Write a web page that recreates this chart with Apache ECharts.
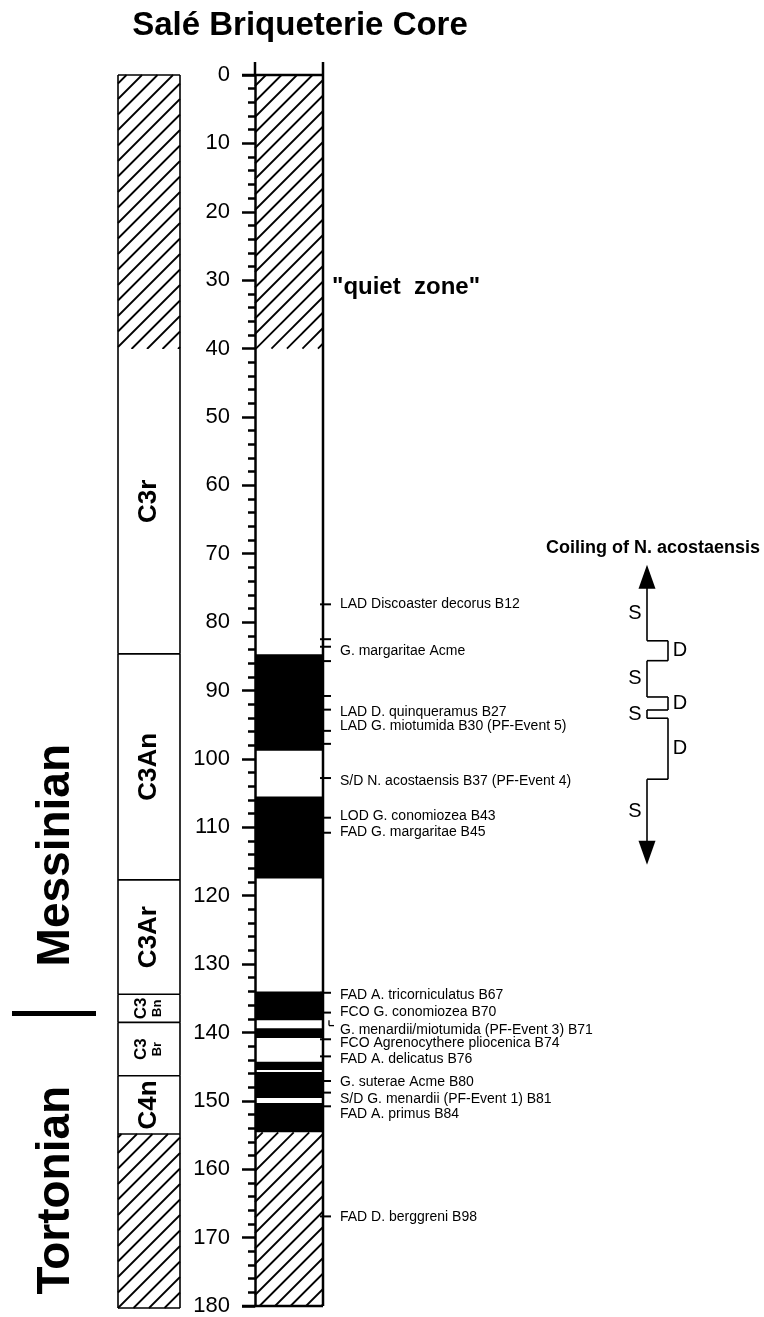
<!DOCTYPE html>
<html><head><meta charset="utf-8">
<script src="https://cdn.jsdelivr.net/npm/echarts@6/dist/echarts.min.js"></script>
<style>html,body{margin:0;padding:0;background:#fff}#c{width:764px;height:1317px}</style>
</head><body><div id="c"></div>
<script>
// ---------------- DATA ----------------
const depthMin = 0, depthMax = 180, depthInterval = 10;

// Magnetic polarity chrons (left column)
const chronLabel   = ['', 'C3r', 'C3An', 'C3Ar', 'C3', 'C3', 'C4n', ''];
const chronSub     = ['', '', '', '', 'Bn', 'Br', '', ''];
const chronTop     = [0, 40, 84.5, 117.5, 134.2, 138.3, 146.1, 154.6];
const chronBottom  = [40, 84.5, 117.5, 134.2, 138.3, 146.1, 154.6, 180];
const chronHatched = [true, false, false, false, false, false, false, true];

// Core column: unsampled (hatched) intervals and normal polarity (black) intervals
const hatchTop     = [0, 154.6];
const hatchBottom  = [40, 180];
const normalTop    = [84.7, 105.5, 134.0, 139.4, 144.3, 145.8, 150.3];
const normalBottom = [98.8, 117.5, 138.2, 140.8, 145.5, 149.6, 154.6];

// Bio-events
const tickDepths = [77.4, 82.5, 83.6, 85.7, 90.8, 92.8, 95.9, 97.8, 102.8, 108.6, 110.8,
                    134.2, 137.1, 141.0, 143.5, 147.1, 148.8, 150.8, 166.9];
const eventNames = [
  'LAD Discoaster decorus B12',
  'G. margaritae Acme',
  'LAD D. quinqueramus B27',
  'LAD G. miotumida B30 (PF-Event 5)',
  'S/D N. acostaensis B37 (PF-Event 4)',
  'LOD G. conomiozea B43',
  'FAD G. margaritae B45',
  'FAD A. tricorniculatus B67',
  'FCO G. conomiozea B70',
  'G. menardii/miotumida (PF-Event 3) B71',
  'FCO Agrenocythere pliocenica B74',
  'FAD A. delicatus B76',
  'G. suterae Acme B80',
  'S/D G. menardii (PF-Event 1) B81',
  'FAD A. primus B84',
  'FAD D. berggreni B98'
];
const eventLabelDepths = [77.4, 84.2, 93.1, 95.2, 103.2, 108.3, 110.7,
                          134.5, 137.1, 139.7, 141.5, 143.9, 147.3, 149.8, 152.0, 167.0];
const leaderTop = 138.2, leaderBottom = 139.0;   // B71 leader

// Stages
const stageNames = ['Messinian', 'Tortonian'];
const stageCenters = [113.9, 162.8];
const stageBoundary = 137.0;

// Coiling of N. acostaensis
const coilStates = ['S', 'D', 'S', 'D', 'S', 'D', 'S'];
const coilTop    = [71.5, 82.6, 85.5, 90.8, 92.7, 93.9, 102.8];
const coilBottom = [82.6, 85.5, 90.8, 92.7, 93.9, 102.8, 115.3];

const quietZoneDepth = 31;

// ---------------- CHART ----------------
const FONT = '"Liberation Sans", Arial, Helvetica, sans-serif';
const chart = echarts.init(document.getElementById('c'), null, {renderer: 'canvas', width: 764, height: 1317});
const TOP = 75, H = 1233;

function ln(x1, y1, x2, y2, w) {
  return {type: 'line', shape: {x1, y1, x2, y2}, style: {stroke: '#000', lineWidth: w}};
}
function hatchLines(x0, y0, x1, y1, step, lw) {
  const els = [];
  const start = Math.ceil((x0 + y0) / step) * step;
  for (let c = start; c < x1 + y1; c += step) {
    const xa = Math.max(x0, c - y1), xb = Math.min(x1, c - y0);
    if (xb - xa < 0.5) continue;
    els.push(ln(xa, c - xa, xb, c - xb, lw));
  }
  return els;
}
function txt(x, y, text, size, weight, align, rot, extra) {
  return Object.assign({type: 'text', x, y, rotation: rot || 0,
    style: {text, fontSize: size, fontWeight: weight || 'normal', fontFamily: FONT, fill: '#000',
            align: align || 'left', verticalAlign: 'middle'}}, extra || {});
}

const hiddenY = gi => ({type: 'value', gridIndex: gi, inverse: true, min: depthMin, max: depthMax,
                        interval: depthInterval, show: false});
const hiddenX = gi => ({type: 'value', gridIndex: gi, min: 0, max: 1, show: false});

const option = {
  animation: false,
  backgroundColor: '#fff',
  grid: [
    {left: 118, top: TOP, width: 62, height: H},   // chron column
    {left: 255, top: TOP, width: 68, height: H},   // core column
    {left: 647, top: TOP, width: 21, height: H}    // coiling diagram
  ],
  xAxis: [hiddenX(0), hiddenX(1), hiddenX(2)],
  yAxis: [
    hiddenY(0),
    {type: 'value', gridIndex: 1, inverse: true, min: depthMin, max: depthMax, interval: depthInterval,
     axisLine: {show: true, lineStyle: {color: '#000', width: 2.5}},
     axisTick: {show: true, length: 13, lineStyle: {color: '#000', width: 2.5}},
     minorTick: {show: true, splitNumber: 5, length: 7, lineStyle: {color: '#000', width: 2.5}},
     axisLabel: {color: '#000', fontSize: 22, fontFamily: FONT, margin: 25},
     splitLine: {show: false}, minorSplitLine: {show: false}},
    hiddenY(2)
  ],
  graphic: [
    {type: 'text', x: 300, y: 26, style: {text: 'Salé Briqueterie Core', fontSize: 33, fontWeight: 'bold',
      fontFamily: FONT, fill: '#000', align: 'center', verticalAlign: 'middle'}}
  ],
  series: [
    // chron column
    {type: 'custom', xAxisIndex: 0, yAxisIndex: 0, z: 2,
     data: chronTop.map((t, i) => [0, t, chronBottom[i]]),
     encode: {x: 0, y: [1, 2]},
     renderItem: (params, api) => {
       const i = params.dataIndex;
       const p0 = api.coord([0, api.value(1)]), p1 = api.coord([1, api.value(2)]);
       const x0 = p0[0], y0 = p0[1], x1 = p1[0], y1 = p1[1];
       const ch = [{type: 'rect', shape: {x: x0, y: y0, width: x1 - x0, height: y1 - y0}, style: {fill: '#fff'}}];
       if (chronHatched[i]) ch.push(...hatchLines(x0, y0, x1, y1, 15.5, 1.8));
       ch.push(ln(x0, y0, x0, y1, 1.6), ln(x1, y0, x1, y1, 1.6));
       if (i === 0 || !chronHatched[i - 1]) ch.push(ln(x0, y0, x1, y0, 1.6));
       if (i === chronTop.length - 1) ch.push(ln(x0, y1, x1, y1, 1.6));
       const cx = (x0 + x1) / 2, cy = (y0 + y1) / 2;
       if (chronLabel[i]) {
         if (chronSub[i]) {
           ch.push({type: 'text', x: cx, y: cy, rotation: Math.PI / 2,
             style: {text: '{a|' + chronLabel[i] + '}\n{b|' + chronSub[i] + '}',
               rich: {a: {fontSize: 17, fontWeight: 'bold', fontFamily: FONT, lineHeight: 17, fill: '#000'},
                      b: {fontSize: 13, fontWeight: 'bold', fontFamily: FONT, lineHeight: 15, fill: '#000'}},
               align: 'center', verticalAlign: 'middle', fill: '#000'}});
         } else {
           ch.push(txt(cx, cy, chronLabel[i], 26, 'bold', 'center', Math.PI / 2));
         }
       }
       return {type: 'group', children: ch};
     }},
    // stages
    {type: 'custom', xAxisIndex: 0, yAxisIndex: 0, z: 2,
     data: stageNames.map((n, i) => [0, stageCenters[i]]),
     encode: {x: 0, y: 1},
     renderItem: (params, api) => {
       const p = api.coord([0, api.value(1)]);
       const ch = [txt(p[0] - 62, p[1], stageNames[params.dataIndex], 46, 'bold', 'center', Math.PI / 2)];
       if (params.dataIndex === 0) {
         const b = api.coord([0, stageBoundary]);
         ch.push({type: 'rect', shape: {x: b[0] - 106, y: b[1] - 2.5, width: 84, height: 5}, style: {fill: '#000'}});
       }
       return {type: 'group', children: ch};
     }},
    // core hatched intervals
    {type: 'custom', xAxisIndex: 1, yAxisIndex: 1, z: 2,
     data: hatchTop.map((t, i) => [0, t, hatchBottom[i]]),
     encode: {x: 0, y: [1, 2]},
     renderItem: (params, api) => {
       const p0 = api.coord([0, api.value(1)]), p1 = api.coord([1, api.value(2)]);
       return {type: 'group', children: hatchLines(p0[0], p0[1], p1[0], p1[1], 15.5, 1.8)};
     }},
    // core normal polarity
    {type: 'custom', xAxisIndex: 1, yAxisIndex: 1, z: 3,
     data: normalTop.map((t, i) => [0, t, normalBottom[i]]),
     encode: {x: 0, y: [1, 2]},
     renderItem: (params, api) => {
       const p0 = api.coord([0, api.value(1)]), p1 = api.coord([1, api.value(2)]);
       return {type: 'rect', shape: {x: p0[0], y: p0[1], width: p1[0] - p0[0], height: p1[1] - p0[1]},
               style: {fill: '#000'}};
     }},
    // core frame
    {type: 'custom', xAxisIndex: 1, yAxisIndex: 1, z: 4,
     data: [[0, depthMin, depthMax]],
     encode: {x: 0, y: [1, 2]},
     renderItem: (params, api) => {
       const p0 = api.coord([0, api.value(1)]), p1 = api.coord([1, api.value(2)]);
       return {type: 'group', children: [
         ln(p1[0], p0[1] - 13, p1[0], p1[1], 2.5),
         ln(p0[0], p0[1] - 13, p0[0], p0[1], 2.5),
         ln(p0[0] - 13, p0[1], p1[0], p0[1], 2.5),
         ln(p0[0] - 13, p1[1], p1[0], p1[1], 2.5)
       ]};
     }},
    // event ticks
    {type: 'custom', xAxisIndex: 1, yAxisIndex: 1, z: 5,
     data: tickDepths.map(d => [1, d]),
     encode: {x: 0, y: 1},
     renderItem: (params, api) => {
       const p = api.coord([1, api.value(1)]);
       return ln(p[0] - 3, p[1], p[0] + 8, p[1], 2);
     }},
    // event labels
    {type: 'custom', xAxisIndex: 1, yAxisIndex: 1, z: 5,
     data: eventLabelDepths.map(d => [1, d]),
     encode: {x: 0, y: 1},
     renderItem: (params, api) => {
       const p = api.coord([1, api.value(1)]);
       const ch = [txt(p[0] + 17, p[1], eventNames[params.dataIndex], 14, 'normal', 'left')];
       if (eventNames[params.dataIndex].indexOf('B71') >= 0) {
         const a = api.coord([1, leaderTop]), b = api.coord([1, leaderBottom]);
         ch.push(ln(a[0] + 6, a[1], a[0] + 6, b[1], 1.3), ln(a[0] + 6, b[1], a[0] + 11, b[1], 1.3));
       }
       return {type: 'group', children: ch};
     }},
    // quiet zone
    {type: 'custom', xAxisIndex: 1, yAxisIndex: 1, z: 5,
     data: [[1, quietZoneDepth]],
     encode: {x: 0, y: 1},
     renderItem: (params, api) => {
       const p = api.coord([1, api.value(1)]);
       return txt(p[0] + 9, p[1], '"quiet  zone"', 24, 'bold', 'left');
     }},
    // coiling diagram
    {type: 'custom', xAxisIndex: 2, yAxisIndex: 2, z: 5,
     data: coilStates.map((s, i) => [s === 'S' ? 0 : 1, coilTop[i], coilBottom[i]]),
     encode: {x: 0, y: [1, 2]},
     renderItem: (params, api) => {
       const i = params.dataIndex, n = coilStates.length;
       const xv = api.value(0);
       const pt = api.coord([xv, api.value(1)]), pb = api.coord([xv, api.value(2)]);
       const x = pt[0];
       let yTop = pt[1], yBot = pb[1];
       const ch = [];
       const AH = 24, AW = 8.5;
       if (i === 0) {
         ch.push({type: 'polygon', shape: {points: [[x, yTop], [x - AW, yTop + AH], [x + AW, yTop + AH]]}, style: {fill: '#000'}});
         ch.push(txt(x + 6, yTop - 17, 'Coiling of N. acostaensis', 18, 'bold', 'center'));
         yTop += AH - 2;
       }
       if (i === n - 1) {
         ch.push({type: 'polygon', shape: {points: [[x, yBot], [x - AW, yBot - AH], [x + AW, yBot - AH]]}, style: {fill: '#000'}});
         yBot -= AH - 2;
       }
       ch.push(ln(x, yTop, x, yBot, 1.6));
       if (i < n - 1) {
         const nx = api.coord([coilStates[i + 1] === 'S' ? 0 : 1, coilBottom[i]]);
         ch.push(ln(x, pb[1], nx[0], pb[1], 1.6));
       }
       const mid = (yTop + yBot) / 2;
       ch.push(txt(xv === 0 ? x - 12 : x + 12, mid, coilStates[i], 20, 'normal', 'center'));
       return {type: 'group', children: ch};
     }}
  ]
};
chart.setOption(option);
</script>
</body></html>
